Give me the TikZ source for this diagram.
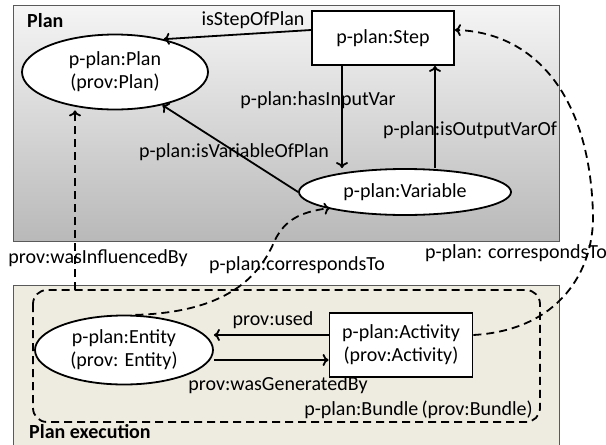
\documentclass[tikz,border=0pt]{standalone}
\usepackage{fontspec}
\setmainfont{Carlito}
\usetikzlibrary{shapes.geometric,arrows.meta}
\begin{document}
\begin{tikzpicture}[x=1pt,y=-1pt,
  lbl/.style={font=\fontsize{20}{22}\selectfont, inner sep=1pt},
  ell/.style={ellipse, draw, line width=1.8pt, fill=white, inner sep=0pt, align=center, font=\fontsize{20}{23}\selectfont},
  rbox/.style={rectangle, draw, line width=1.8pt, fill=white, inner sep=0pt, align=center, font=\fontsize{20}{23}\selectfont},
  arr/.style={line width=1.8pt, -{To[length=6pt,width=12pt]}},
  darr/.style={line width=1.8pt, dash pattern=on 8pt off 5pt, -{To[length=6pt,width=12pt]}},
  ttl/.style={font=\bfseries\fontsize{20}{22}\selectfont, anchor=west, inner sep=0pt}]
\useasboundingbox (0,0) rectangle (606,445);
% Plan region
\shade[top color=gray!8, bottom color=gray!55, draw=gray!70!black, line width=1pt] (13,5) rectangle (559,241);
\node[ttl] (plantitle) at (27,21) {Plan};
% Plan execution region
\fill[fill={rgb,255:red,238;green,236;blue,225}] (13,285) rectangle (559,446);
\draw[gray!70!black, line width=1pt] (13,446) -- (13,285) -- (559,285) -- (559,446);
\node[ttl] (exectitle) at (29,432) {Plan execution};
% Bundle
\draw[line width=1.8pt, dash pattern=on 8pt off 5pt, rounded corners=14pt] (33,290) rectangle (540,422);
\node[lbl, anchor=east] (bundle) at (534,410) {p-plan:Bundle\,(prov:Bundle)};
% Nodes
\node[ell, minimum width=186pt, minimum height=75pt] (plan) at (115,72) {p-plan:Plan\\(prov:Plan)};
\node[rbox, minimum width=142pt, minimum height=54pt] (step) at (383,38) {p-plan:Step};
\node[ell, minimum width=212pt, minimum height=46pt] (var) at (405,192) {p-plan:Variable};
\node[ell, minimum width=178pt, minimum height=69pt] (ent) at (124,350) {p-plan:Entity\\(prov: Entity)};
\node[rbox, minimum width=143pt, minimum height=64pt] (act) at (401,345) {p-plan:Activity\\(prov:Activity)};
% Edges
\draw[arr] (step.west |- 0,30) -- (plan.34);
\node[lbl] (l1) at (253,20) {isStepOfPlan};
\draw[arr] (step.south -| 342,0) -- (var.north -| 342,0);
\node[lbl] (l2) at (318,100) {p-plan:hasInputVar};
\draw[arr] (var.north -| 435,0) -- (step.south -| 435,0);
\node[lbl] (l3) at (470,130) {p-plan:isOutputVarOf};
\draw[arr] (var.west) -- (plan.325);
\node[lbl] (l4) at (234,152) {p-plan:isVariableOfPlan};
\draw[arr] (act.west |- 0,335) -- (ent.east |- 0,335);
\node[lbl] (l5) at (273,320) {prov:used};
\draw[arr] (ent.east |- 0,360) -- (act.west |- 0,360);
\node[lbl] (l6) at (278,385) {prov:wasGeneratedBy};
% dashed
\coordinate (bt) at (75,290);
\draw[darr] (bt) -- (plan.south -| 75,0);
\node[lbl] (l7) at (98,258) {prov:wasInfluencedBy};
\draw[darr] (ent.72) .. controls (235,312) and (262,270) .. (275,240)
  .. controls (285,220) and (300,212) .. (330,208);
\node[lbl] (l8) at (297,265) {p-plan:correspondsTo};
\draw[darr] (act.east |- 0,335) .. controls (560,330) and (594,270) .. (593,215)
  .. controls (590,90) and (530,32) .. (step.east |- 0,30);
\node[lbl] (l9) at (516,253) {p-plan: correspondsTo};
\end{tikzpicture}
\end{document}
